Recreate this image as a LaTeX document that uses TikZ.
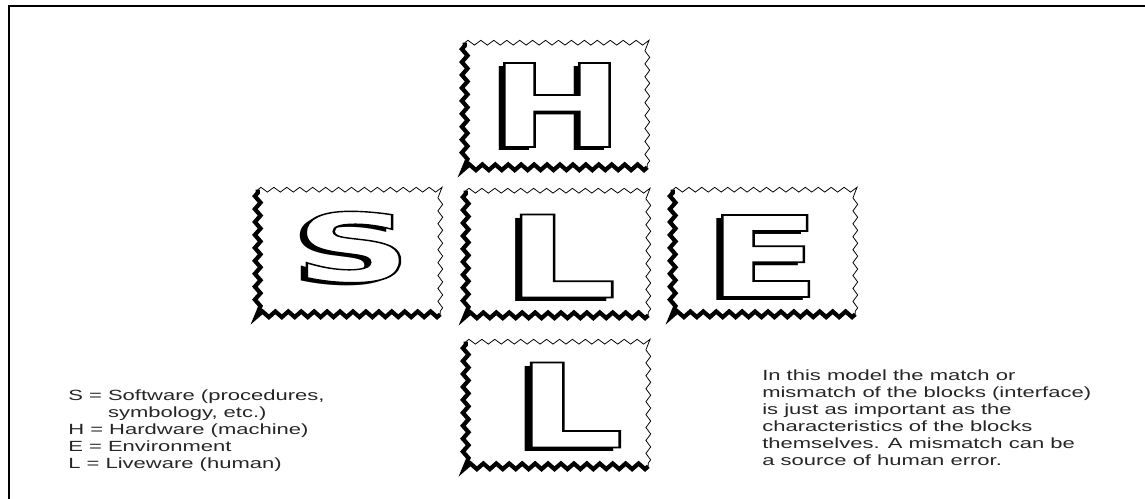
\documentclass[tikz,border=0pt]{standalone}
\usepackage{fontspec}
\usepackage{graphicx}
\usetikzlibrary{decorations.pathmorphing}
\newfontfamily\notefont[FakeStretch=1.49]{Liberation Sans}
\newfontfamily\blockfont{DejaVu Sans}
% white letter with black outline and a shadow to the lower left
\newcommand{\blockletter}[1]{{\blockfont\bfseries\fontsize{60}{60}\selectfont
  \rlap{\kern-2pt\raisebox{-2pt}[0pt][0pt]{\color{black}#1}}%
  {\color{white}\special{pdf:literal direct 2 Tr 0 G 0.9 w}#1\special{pdf:literal direct 0 Tr}}}}
\tikzset{
  block/.style={minimum width=4.55cm, minimum height=3.1cm, inner sep=0pt},
  zigthin/.style={decorate, decoration={zigzag, segment length=9.2pt, amplitude=1.7pt}, line width=0.55pt},
  zigthick/.style={decorate, decoration={zigzag, segment length=9.2pt, amplitude=2pt}, line width=3pt},
  note/.style={inner sep=0pt, align=left, text=black!85, font=\notefont\fontsize{10.5}{12.05}\selectfont},
}
\begin{document}
\begin{tikzpicture}[x=0.025cm, y=-0.025cm]
\useasboundingbox (0,0) rectangle (1145,499);
\draw[line width=2.1pt] (9,499) -- (9,6) -- (1145,6);
% the five blocks
\node[block] (H) at (556,105) {};
\node[block] (S) at (349,252) {};
\node[block] (C) at (557,253) {};
\node[block] (E) at (764,252) {};
\node[block] (B) at (557,404) {};
\foreach \b in {H,S,C,E,B} {
  \draw[zigthin] (\b.north west) -- (\b.north east) -- (\b.south east);
  \draw[zigthick] (\b.south east) -- (\b.south west) -- (\b.north west);
}
\node (Hlet) at (557,105) {\resizebox{3.37cm}{2.1cm}{\blockletter{H}}};
\node (Slet) at (353,247) {\resizebox{2.95cm}{1.75cm}{\blockletter{S}}};
\node (Clet) at (561,256) {\resizebox{2.8cm}{2.075cm}{\blockletter{L}}};
\node (Elet) at (764,256) {\resizebox{2.85cm}{2.05cm}{\blockletter{E}}};
\node (Blet) at (570,405) {\resizebox{2.72cm}{2.125cm}{\blockletter{L}}};
% texts
\node[note, anchor=north west] (key) at (68,390) {S = Software (procedures,\\
  \phantom{S = }symbology, etc.)\\
  H = Hardware (machine)\\
  E = Environment\\
  L = Liveware (human)};
\node[note, anchor=north west] (remark) at (762,370) {In this model the match or\\
  mismatch of the blocks (interface)\\
  is just as important as the\\
  characteristics of the blocks\\
  themselves. A mismatch can be\\
  a source of human error.};
\end{tikzpicture}
\end{document}
